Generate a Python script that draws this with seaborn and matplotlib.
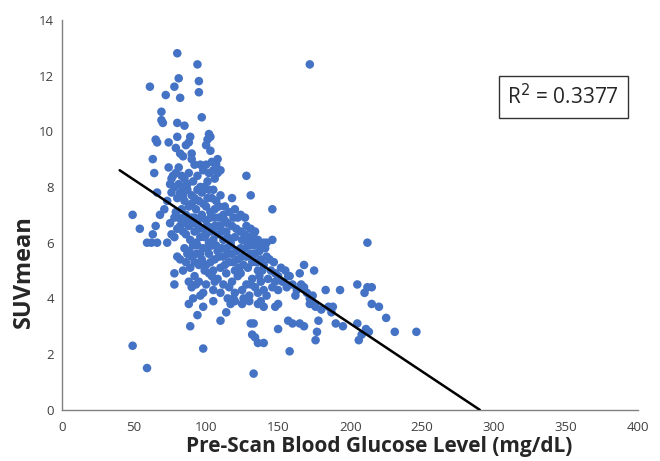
import pandas as pd
import matplotlib
matplotlib.use("Agg")
import matplotlib.pyplot as plt
import seaborn as sns

# points, grouped by SUV band
high_pts = [(80, 12.8), (94, 12.4), (172, 12.4), (81, 11.9), (95, 11.8), (61, 11.6), (78, 11.6),
            (95, 11.4), (72, 11.3), (82, 11.2), (69, 10.7), (69, 10.4), (70, 10.3), (97, 10.5),
            (80, 10.3), (85, 10.2), (65, 9.7), (66, 9.6), (74, 9.6), (80, 9.8), (89, 9.8), (86, 9.5),
            (102, 9.9), (101, 9.7), (100, 9.5), (103, 9.8), (79, 9.4), (82, 9.2), (103, 9.3),
            (88, 9.6), (84, 9.1), (90, 9.2)]
band_8 = [(63, 9.0), (90, 9.0), (92, 8.8), (96, 8.8), (100, 8.8), (104, 8.9), (108, 9.0), (105, 8.6),
          (110, 8.6), (74, 8.7), (77, 8.4), (79, 8.5), (83, 8.4), (85, 8.3), (88, 8.5), (106, 8.3),
          (64, 8.5), (128, 8.4), (98, 8.6), (102, 8.5), (94, 8.4), (91, 8.2), (87, 8.1), (81, 8.7),
          (76, 8.3), (107, 8.8), (101, 8.2), (96, 8.0), (108, 8.5)]
band_7 = [(75, 8.1), (78, 8.0), (81, 8.1), (84, 8.0), (87, 7.9), (92, 7.6), (97, 7.8), (99, 8.0),
          (102, 7.9), (104, 7.6), (107, 7.5), (66, 7.8), (73, 7.5), (80, 7.6), (85, 7.5), (90, 7.7),
          (95, 7.5), (100, 7.3), (106, 7.2), (112, 7.0), (116, 7.1), (118, 7.6), (131, 7.7),
          (146, 7.2), (76, 7.8), (82, 7.8), (88, 7.3), (93, 7.2), (97, 7.0), (103, 7.1), (109, 7.3),
          (83, 7.2), (79, 7.1), (86, 7.0), (90, 7.4), (101, 7.6), (105, 7.9), (110, 7.7), (113, 7.3),
          (120, 7.2), (124, 7.0), (127, 6.9), (98, 7.4), (94, 7.9), (84, 7.7)]
band_6 = [(49, 7.0), (54, 6.5), (59, 6.0), (62, 6.0), (63, 6.3), (65, 6.6), (66, 6.0), (68, 7.0),
          (71, 7.2), (73, 6.0), (75, 6.7), (78, 6.9), (80, 6.5), (83, 6.8), (86, 6.3), (88, 6.6),
          (90, 6.9), (92, 6.4), (94, 6.7), (96, 6.2), (98, 6.5), (100, 6.8), (102, 6.0), (104, 6.4),
          (106, 6.9), (108, 6.3), (110, 6.6), (112, 6.1), (114, 6.4), (118, 6.6), (120, 6.2),
          (122, 6.9), (124, 6.4), (128, 6.6), (130, 6.2), (132, 6.0), (134, 6.4), (140, 6.0),
          (146, 6.1), (76, 6.3), (78, 6.2), (81, 6.9), (84, 6.4), (87, 6.8), (89, 6.1), (91, 6.7),
          (93, 6.0), (95, 6.5), (97, 6.9), (99, 6.2), (101, 6.6), (103, 6.9), (105, 6.1), (107, 6.6),
          (109, 6.9), (111, 6.4), (113, 6.8), (115, 6.2), (117, 6.0), (119, 6.9), (121, 6.5),
          (125, 6.1), (127, 6.3), (129, 6.0), (131, 6.5), (133, 6.2), (136, 6.1), (138, 5.9),
          (142, 6.0), (115, 6.7), (82, 6.6), (86, 6.7), (92, 6.9), (100, 6.3), (106, 6.6)]
band_5 = [(80, 5.5), (82, 5.4), (85, 5.8), (88, 5.7), (90, 5.5), (92, 5.3), (94, 5.9), (96, 5.6),
          (98, 5.8), (100, 5.2), (102, 5.6), (104, 5.9), (106, 5.4), (108, 5.7), (110, 5.1),
          (112, 5.5), (114, 5.8), (116, 5.3), (118, 5.6), (120, 5.0), (122, 5.4), (124, 5.8),
          (126, 5.2), (128, 5.5), (130, 5.9), (132, 5.3), (134, 5.6), (136, 5.0), (138, 5.4),
          (140, 5.2), (142, 5.5), (145, 5.0), (148, 4.9), (150, 4.8), (155, 5.0), (157, 4.8),
          (165, 4.9), (168, 5.2), (175, 5.0), (89, 5.1), (91, 5.9), (93, 5.6), (95, 5.2), (97, 5.4),
          (99, 5.0), (101, 5.8), (103, 5.3), (105, 5.0), (107, 5.9), (109, 5.5), (111, 5.8),
          (113, 5.2), (115, 5.6), (117, 5.9), (119, 5.3), (121, 5.7), (123, 5.1), (125, 5.5),
          (127, 5.8), (129, 5.1), (131, 5.6), (133, 5.9), (135, 5.3), (137, 5.7), (139, 5.0),
          (141, 5.8), (144, 5.4), (147, 5.3), (152, 5.1), (86, 5.3), (84, 5.0), (87, 5.6)]
band_4 = [(78, 4.9), (78, 4.5), (88, 4.6), (90, 4.4), (92, 4.8), (95, 4.6), (98, 4.2), (100, 4.5),
          (102, 4.9), (105, 4.3), (108, 4.7), (110, 4.2), (112, 4.5), (115, 4.0), (118, 4.6),
          (120, 4.2), (122, 4.8), (125, 4.3), (128, 4.5), (130, 4.1), (132, 4.7), (134, 4.4),
          (136, 4.2), (138, 4.6), (140, 4.3), (143, 4.7), (146, 4.4), (150, 4.3), (153, 4.6),
          (156, 4.4), (160, 4.5), (163, 4.3), (166, 4.5), (170, 4.2), (172, 4.0), (183, 4.3),
          (193, 4.3), (205, 4.5), (210, 4.2), (212, 4.4), (215, 4.4), (104, 4.8), (106, 4.6),
          (114, 4.9), (116, 4.4), (124, 4.9), (126, 4.0), (131, 4.5), (137, 4.8), (142, 4.1),
          (148, 4.6), (158, 4.8), (162, 4.1), (168, 4.4), (174, 4.1), (96, 4.1), (93, 4.5)]
band_3 = [(88, 3.8), (91, 4.0), (94, 3.4), (98, 3.7), (105, 3.9), (110, 3.2), (114, 3.5), (117, 3.8),
          (120, 3.9), (125, 3.8), (130, 3.9), (136, 3.8), (140, 3.7), (148, 3.7), (150, 3.8),
          (157, 3.2), (160, 3.1), (165, 3.1), (168, 3.0), (172, 3.8), (176, 3.7), (178, 3.2),
          (180, 3.6), (185, 3.7), (188, 3.7), (190, 3.1), (195, 3.0), (205, 3.1), (215, 3.8),
          (220, 3.7), (225, 3.3), (119, 4.0), (138, 3.9), (174, 3.8), (187, 3.5)]
low_pts = [(89, 3.0), (131, 3.1), (133, 3.1), (132, 2.7), (134, 2.6), (136, 2.4), (140, 2.4),
           (150, 2.9), (176, 2.5), (177, 2.8), (206, 2.5), (208, 2.7), (211, 2.9), (213, 2.8),
           (231, 2.8), (246, 2.8), (212, 6.0), (49, 2.3), (98, 2.2), (158, 2.1), (59, 1.5),
           (133, 1.3)]

# trend line as drawn in the reference
fit_x = [40, 290]
fit_y = [8.6, 0.0]
r_squared = "0.3377"

pts = high_pts + band_8 + band_7 + band_6 + band_5 + band_4 + band_3 + low_pts
df = pd.DataFrame(pts, columns=["glucose", "suv"])

sns.set_style("white")
plt.rcParams['font.family'] = ['Open Sans', 'DejaVu Sans']

fig = plt.figure(figsize=(6.6, 4.61), dpi=100)
ax = fig.add_axes([0.094, 0.111, 0.873, 0.846])

sns.scatterplot(data=df, x="glucose", y="suv", color="#4472C4", s=38,
                edgecolor="none", ax=ax, zorder=2)
sns.lineplot(x=fit_x, y=fit_y, color="black", linewidth=1.8, ax=ax, zorder=3)

ax.set_xlim(0, 400)
ax.set_ylim(0, 14)
ax.set_xticks(range(0, 401, 50))
ax.set_yticks(range(0, 15, 2))
ax.tick_params(length=0, labelsize=9.5, labelcolor="#404040")
ax.tick_params(axis="x", pad=8)
ax.tick_params(axis="y", pad=6)
ax.set_xlabel("Pre-Scan Blood Glucose Level (mg/dL)", fontsize=15, fontweight="bold")
ax.set_ylabel("SUVmean", fontsize=17, fontweight="bold")
ax.xaxis.set_label_coords(0.55, -0.068)
ax.yaxis.set_label_coords(-0.045, 0.354)

sns.despine(ax=ax)
for side in ["left", "bottom"]:
    ax.spines[side].set_color("#808080")
    ax.spines[side].set_linewidth(1.0)

ax.text(0.87, 0.803, "R$^2$ = " + r_squared, transform=ax.transAxes, fontsize=15,
        ha="center", va="center",
        bbox=dict(boxstyle="square,pad=0.4", facecolor="white", edgecolor="#333333", linewidth=1))

fig.savefig("out.png", dpi=100)
